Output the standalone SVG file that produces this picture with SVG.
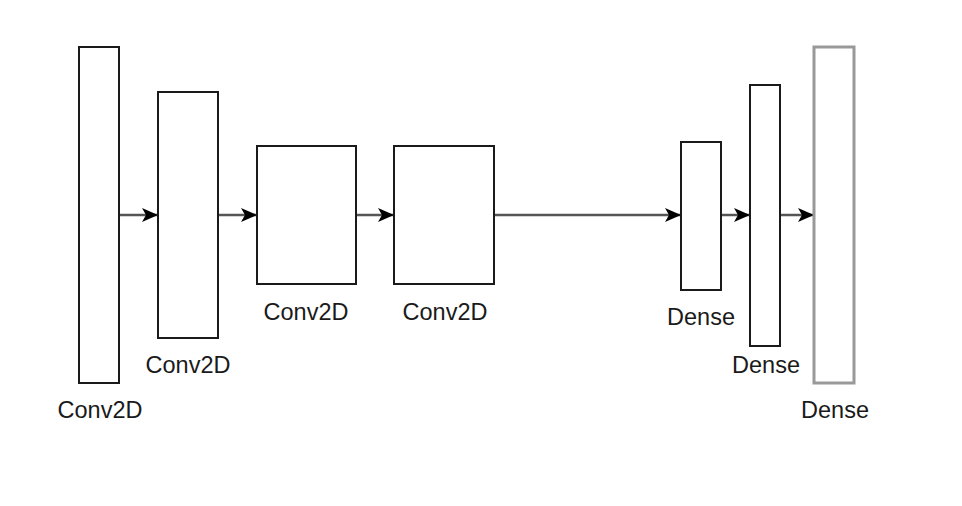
<svg xmlns="http://www.w3.org/2000/svg" width="962" height="506" viewBox="0 0 962 506">
<style>
.box{fill:#fff;stroke:#1a1a1a;stroke-width:2}
.gbox{fill:#fff;stroke:#999;stroke-width:3}
.lbl{font-family:"Liberation Sans",Arial,sans-serif;font-size:23.5px;fill:#1a1a1a;text-anchor:middle}
.edge{fill:none;stroke:#555;stroke-width:2.5}
</style>
<defs>
<marker id="arr" markerUnits="userSpaceOnUse" markerWidth="17" markerHeight="16" refX="16" refY="8" orient="auto" viewBox="0 0 17 16">
<path d="M0,1 L16,8 L0,15 L4,8 Z" fill="#000"/>
</marker>
</defs>
<rect width="962" height="506" fill="#fff"/>
<g id="connectors">
<line class="edge" x1="119" y1="215" x2="158" y2="215" marker-end="url(#arr)"/>
<line class="edge" x1="218" y1="215" x2="257" y2="215" marker-end="url(#arr)"/>
<line class="edge" x1="356" y1="215" x2="394" y2="215" marker-end="url(#arr)"/>
<line class="edge" x1="494" y1="215" x2="681" y2="215" marker-end="url(#arr)"/>
<line class="edge" x1="721" y1="215" x2="750" y2="215" marker-end="url(#arr)"/>
<line class="edge" x1="780" y1="215" x2="814" y2="215" marker-end="url(#arr)"/>
</g>
<g id="conv1"><rect class="box" x="79" y="47" width="40" height="336"/><text class="lbl" x="100" y="418">Conv2D</text></g>
<g id="conv2"><rect class="box" x="158" y="92" width="60" height="246"/><text class="lbl" x="188" y="373">Conv2D</text></g>
<g id="conv3"><rect class="box" x="257" y="146" width="99" height="138"/><text class="lbl" x="306" y="320">Conv2D</text></g>
<g id="conv4"><rect class="box" x="394" y="146" width="100" height="138"/><text class="lbl" x="445" y="320">Conv2D</text></g>
<g id="dense1"><rect class="box" x="681" y="142" width="40" height="148"/><text class="lbl" x="701" y="325">Dense</text></g>
<g id="dense2"><rect class="box" x="750" y="85" width="30" height="261"/><text class="lbl" x="766" y="373">Dense</text></g>
<g id="dense3"><rect class="gbox" x="814" y="47" width="40" height="336"/><text class="lbl" x="835" y="418">Dense</text></g>
</svg>
